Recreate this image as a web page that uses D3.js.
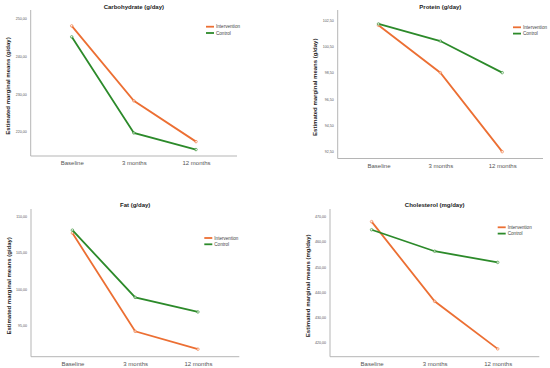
<!DOCTYPE html>
<html lang="en">
<head>
<meta charset="UTF-8">
<title>Estimated marginal means</title>
<script src="https://d3js.org/d3.v7.min.js"></script>
<style>
  body { margin: 0; background: #fff; font-family: "Liberation Sans", Arial, sans-serif; }
  svg { display: block; }
</style>
</head>
<body>
<svg id="chart" width="550" height="368"></svg>
<script>
// data
const timepoints = ["Baseline", "3 months", "12 months"];
const groups = ["Intervention", "Control"];

const carbIntervention = [248.0, 228.2, 217.4];
const carbControl = [245.1, 219.7, 215.3];
const carbTicks = [220, 230, 240, 250];

const protIntervention = [102.1, 98.5, 92.5];
const protControl = [102.2, 100.9, 98.5];
const protTicks = [92.5, 94.5, 96.5, 98.5, 100.5, 102.5];

const fatIntervention = [107.7, 94.25, 91.8];
const fatControl = [108.1, 98.9, 96.9];
const fatTicks = [95, 100, 105, 110];

const cholIntervention = [467.9, 436.4, 417.6];
const cholControl = [464.7, 456.2, 451.8];
const cholTicks = [420, 430, 440, 450, 460, 470];

const colors = { Intervention: "#ec6f33", Control: "#2c8a2a" };

// panel layout (pixels) and value ranges
const panels = [
  { title: "Carbohydrate (g/day)", unit: "g/day", series: [carbIntervention, carbControl], ticks: carbTicks,
    domain: [213.6, 252.2], left: 30.7, right: 237, top: 10, bottom: 156, titleY: 9, legX: -31, legY: 26.7 },
  { title: "Protein (g/day)", unit: "g/day", series: [protIntervention, protControl], ticks: protTicks,
    domain: [91.98, 103.26], left: 337.7, right: 543, top: 10, bottom: 158.5, titleY: 8.5, legX: -30, legY: 27.3 },
  { title: "Fat (g/day)", unit: "g/day", series: [fatIntervention, fatControl], ticks: fatTicks,
    domain: [90.77, 111.0], left: 31, right: 239.3, top: 209, bottom: 356.7, titleY: 206.5, legX: -35, legY: 238 },
  { title: "Cholesterol (mg/day)", unit: "mg/day", series: [cholIntervention, cholControl], ticks: cholTicks,
    domain: [414.5, 472.9], left: 330, right: 539.3, top: 209, bottom: 356.7, titleY: 207, legX: -41.6, legY: 227.3 }
];

const svg = d3.select("#chart");
const fmt = v => d3.format(".2f")(v).replace(".", ",");

panels.forEach(p => {
  const g = svg.append("g");
  const x = d3.scalePoint().domain(timepoints).range([p.left, p.right]).padding(0.66);
  const y = d3.scaleLinear().domain(p.domain).range([p.bottom, p.top]);

  // axes
  const yAxis = g.append("g")
     .attr("transform", `translate(${p.left},0)`)
     .call(d3.axisLeft(y).tickValues(p.ticks).tickFormat(fmt).tickSize(0).tickPadding(4));
  yAxis.select(".domain").attr("stroke", "#b5b5b5").attr("d", `M0,${p.top}V${p.bottom}`);
  yAxis.selectAll("text").attr("font-size", 3.6).attr("fill", "#555").attr("font-family", "Liberation Sans, Arial, sans-serif");

  const xAxis = g.append("g")
     .attr("transform", `translate(0,${p.bottom})`)
     .call(d3.axisBottom(x).tickSize(0).tickPadding(5));
  xAxis.select(".domain").attr("stroke", "#b5b5b5").attr("d", `M${p.left},0H${p.right}`);
  xAxis.selectAll("text").attr("font-size", 6).attr("fill", "#555").attr("font-family", "Liberation Sans, Arial, sans-serif");

  // title
  g.append("text")
   .attr("x", (p.left + p.right) / 2)
   .attr("y", p.titleY)
   .attr("text-anchor", "middle")
   .attr("font-size", 6)
   .attr("font-weight", "bold")
   .attr("fill", "#222")
   .text(p.title);

  // y label
  g.append("text")
   .attr("transform", `translate(${p.left - 20.5},${(p.top + p.bottom) / 2 + 3}) rotate(-90)`)
   .attr("text-anchor", "middle")
   .attr("font-size", 6)
   .attr("font-weight", "bold")
   .attr("fill", "#222")
   .text(`Estimated marginal means (${p.unit})`);

  // lines
  const line = d3.line().x((d, i) => x(timepoints[i])).y(d => y(d));
  groups.forEach((name, gi) => {
    const vals = p.series[gi];
    g.append("path")
     .datum(vals)
     .attr("fill", "none")
     .attr("stroke", colors[name])
     .attr("stroke-width", 1.8)
     .attr("d", line);
    g.selectAll(null)
     .data(vals)
     .enter()
     .append("circle")
     .attr("cx", (d, i) => x(timepoints[i]))
     .attr("cy", d => y(d))
     .attr("r", 1.3)
     .attr("fill", "#fff")
     .attr("fill-opacity", 0.6)
     .attr("stroke", colors[name])
     .attr("stroke-width", 0.6);
  });

  // legend
  const lg = g.append("g").attr("transform", `translate(${p.right + p.legX},${p.legY})`);
  groups.forEach((name, gi) => {
    lg.append("line")
      .attr("x1", 0).attr("x2", 8)
      .attr("y1", gi * 6.3).attr("y2", gi * 6.3)
      .attr("stroke", colors[name])
      .attr("stroke-width", 1.8);
    lg.append("text")
      .attr("x", 10)
      .attr("y", gi * 6.3 + 1.6)
      .attr("font-size", 4.6)
      .attr("fill", "#444")
      .text(name);
  });
});
</script>
</body>
</html>
